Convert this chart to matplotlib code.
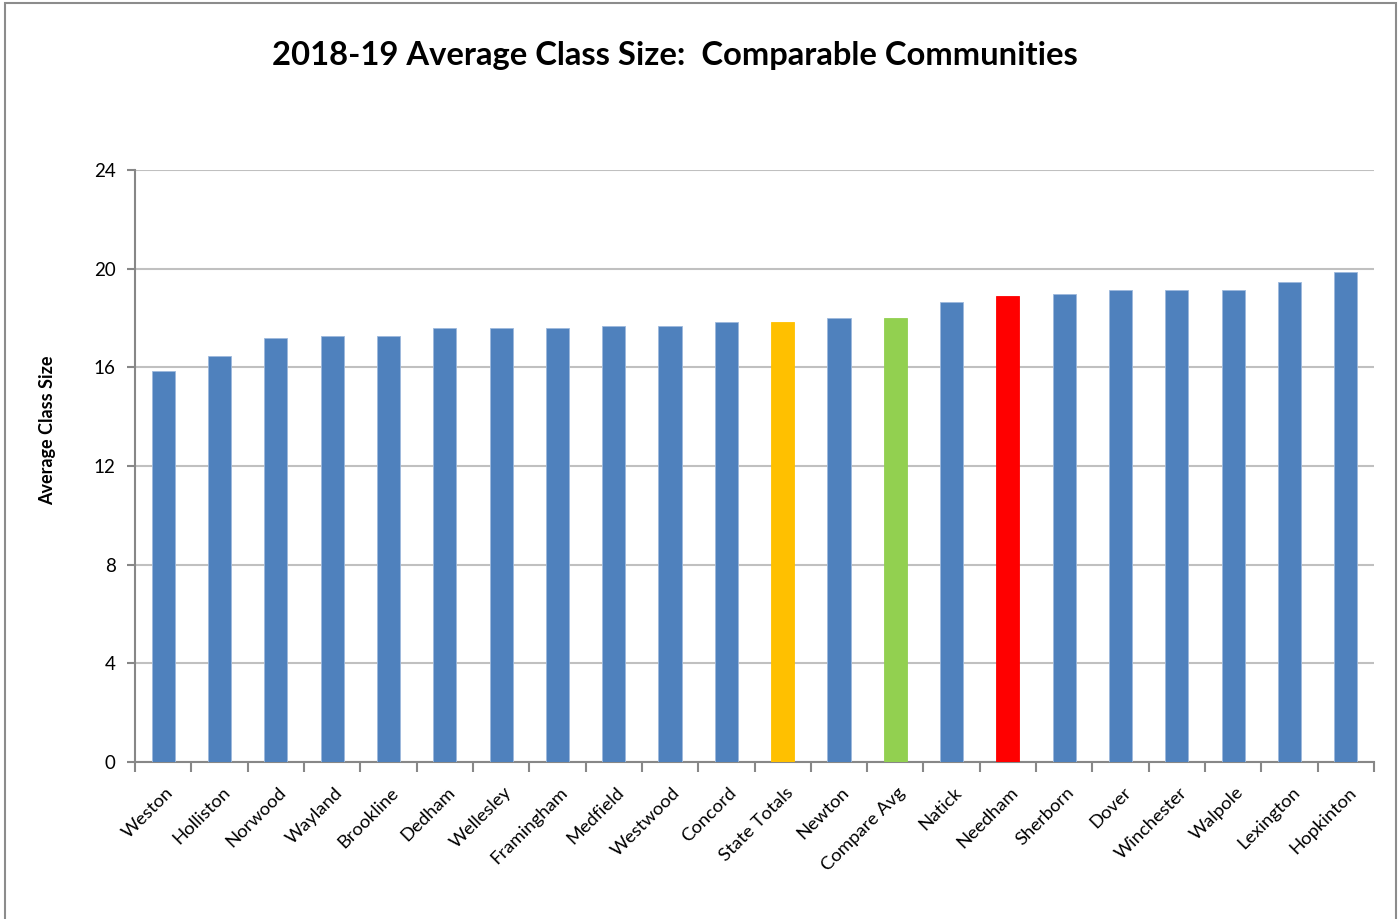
import matplotlib
matplotlib.use("Agg")
import matplotlib.pyplot as plt
import matplotlib.transforms as mtransforms
from matplotlib.patches import Rectangle
import numpy as np

plt.rcParams['font.family'] = ['Lato', 'DejaVu Sans']

communities = ["Weston", "Holliston", "Norwood", "Wayland", "Brookline", "Dedham",
               "Wellesley", "Framingham", "Medfield", "Westwood", "Concord",
               "State Totals", "Newton", "Compare Avg", "Natick", "Needham",
               "Sherborn", "Dover", "Winchester", "Walpole", "Lexington", "Hopkinton"]
class_size = [15.84, 16.47, 17.2, 17.28, 17.28, 17.59,
              17.59, 17.59, 17.69, 17.69, 17.85,
              17.85, 18.0, 18.0, 18.65, 18.89,
              18.97, 19.13, 19.13, 19.13, 19.45, 19.85]
highlight = {"State Totals": "#FFC000", "Compare Avg": "#92D050", "Needham": "#FF0000"}
base_color = "#4F81BD"
y_ticks = [0, 4, 8, 12, 16, 20, 24]

W, H = 1398, 919
fig = plt.figure(figsize=(W / 100, H / 100), dpi=100)

# outer chart border
fig.patches.append(Rectangle((5 / W, -0.05), (1395.5 - 5) / W, 1.05 - 3 / H,
                             transform=fig.transFigure, fill=False,
                             edgecolor="#8C8C8C", linewidth=1.5))

ax = fig.add_axes([135 / W, (H - 762) / H, (1374 - 135) / W, (762 - 170) / H])

x = np.arange(len(communities))
colors = [highlight.get(c, base_color) for c in communities]
edges = ["#9DB9DC" if c not in highlight else col for c, col in zip(communities, colors)]
ax.bar(x, class_size, width=0.41, color=colors, edgecolor=edges, linewidth=0.6, zorder=3)

ax.set_xlim(-0.5, len(communities) - 0.5)
ax.set_ylim(0, 24)
ax.set_yticks(y_ticks)
ax.set_yticklabels([str(v) for v in y_ticks], fontsize=13.5)
ax.grid(axis="y", color="#C0C0C0", linewidth=1.5, zorder=0)
ax.set_axisbelow(True)

# boundary ticks between categories, labels centred on each bar
ax.set_xticks(np.arange(-0.5, len(communities), 1.0))
ax.set_xticklabels([])
ax.set_xticks(x, minor=True)
ax.set_xticklabels(communities, minor=True, rotation=45, ha="right", va="top",
                   rotation_mode="anchor", fontsize=13.3)
ax.tick_params(axis="x", which="minor", length=0, pad=16)
ax.tick_params(axis="x", which="major", length=7, width=1.5, color="#878787")
ax.tick_params(axis="y", length=6, width=1.5, color="#878787", pad=8)
offset = mtransforms.ScaledTranslation(2 / 100, 0, fig.dpi_scale_trans)
for lbl in ax.get_xticklabels(minor=True):
    lbl.set_transform(lbl.get_transform() + offset)

for side in ("top", "right"):
    ax.spines[side].set_visible(False)
for side in ("left", "bottom"):
    ax.spines[side].set_color("#878787")
    ax.spines[side].set_linewidth(1.5)

fig.text(675 / W, 1 - 55 / H, "2018-19 Average Class Size:  Comparable Communities",
         ha="center", va="center", fontsize=23.6, fontweight="bold")
fig.text(48 / W, 1 - 430 / H, "Average Class Size", rotation=90, ha="center",
         va="center", fontsize=13, fontweight="bold")

fig.savefig("out.png", dpi=100)
